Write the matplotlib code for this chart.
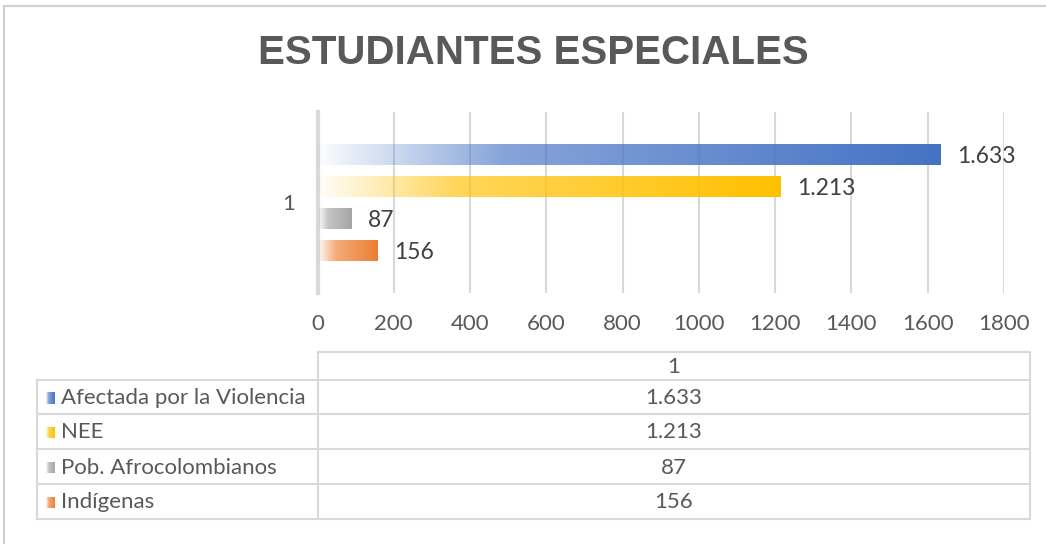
import numpy as np
import matplotlib.pyplot as plt
from matplotlib.colors import to_rgb

# data
categories = ["Afectada por la Violencia", "NEE", "Pob. Afrocolombianos", "Indígenas"]
values = [1633, 1213, 87, 156]
colors = ["#4472C4", "#FFC000", "#A5A5A5", "#ED7D31"]
group_label = "1"
x_ticks = [0, 200, 400, 600, 800, 1000, 1200, 1400, 1600, 1800]
title = "ESTUDIANTES ESPECIALES"

W, H = 1046, 544
TXT = "#595959"
GRID = "#D9D9D9"


def fmt(v):
    return f"{v:,}".replace(",", ".")


def gradient(color, n=256):
    # white -> colour ramp, like the Excel gradient fill
    r, g, b = to_rgb(color)
    t = np.linspace(0, 1, n)
    a = np.interp(t, [0, 0.3, 1], [0.02, 0.65, 1.0])
    img = np.ones((1, n, 4))
    img[0, :, 0], img[0, :, 1], img[0, :, 2] = r, g, b
    img[0, :, 3] = a
    return img


plt.rcParams['font.family'] = ['Lato', 'DejaVu Sans']
fig = plt.figure(figsize=(W / 100, H / 100), dpi=100)

# chart frame lines
fig.add_artist(plt.Line2D([4 / W, 1], [1 - 6 / H, 1 - 6 / H], color="#D0D0D0", lw=1.5))
fig.add_artist(plt.Line2D([4 / W, 4 / W], [0, 1 - 6 / H], color="#D0D0D0", lw=1.5))

fig.text(533 / W, 1 - 53 / H, title, ha="center", va="center", fontsize=29,
         fontweight="bold", color=TXT,
         family=["Liberation Sans", "DejaVu Sans"])

# bar axes
x0, x1, ytop, ybot = 317.5, 1004, 112, 293
ax = fig.add_axes([x0 / W, 1 - ybot / H, (x1 - x0) / W, (ybot - ytop) / H])
slot = 32.0
span = (ybot - ytop) / slot
n = len(values)
ypos = (np.arange(n) - (n - 1) / 2)
bars = ax.barh(ypos, values, height=21 / slot, color="none", edgecolor="none", zorder=3)
for b, v, c in zip(bars, values, colors):
    im = ax.imshow(gradient(c), extent=[0, v, b.get_y(), b.get_y() + b.get_height()],
                   aspect="auto", zorder=3, interpolation="bilinear")
    im.set_clip_path(b)
    ax.text(v + 17 * 1800 / (x1 - x0), b.get_y() + b.get_height() / 2 + 0.05, fmt(v),
            va="center", ha="left", fontsize=16.5, color="#404040", zorder=4)

ax.set_xlim(0, 1800)
ax.set_ylim(span / 2, -span / 2)
ax.set_xticks(x_ticks)
ax.set_xticklabels([str(t) for t in x_ticks])
ax.set_yticks([-0.03])
ax.set_yticklabels([group_label])
ax.tick_params(axis="both", length=0, labelsize=16, labelcolor=TXT)
ax.tick_params(axis="x", pad=15)
ax.tick_params(axis="y", pad=16)
ax.grid(axis="x", color=GRID, lw=1.5, zorder=0)
for s in ["top", "right", "bottom"]:
    ax.spines[s].set_visible(False)
ax.spines["left"].set_color(GRID)
ax.spines["left"].set_linewidth(3)
ax.set_facecolor("none")

# data table under the chart
tl, tm, tr = 37, 318, 1030
row_y = [352, 380, 414, 449, 484, 519]


def hline(y, xa, xb):
    fig.add_artist(plt.Line2D([xa / W, xb / W], [1 - y / H, 1 - y / H], color=GRID, lw=1.5))


def vline(x, ya, yb):
    fig.add_artist(plt.Line2D([x / W, x / W], [1 - ya / H, 1 - yb / H], color=GRID, lw=1.5))


hline(row_y[0], tm, tr)
for y in row_y[1:]:
    hline(y, tl, tr)
vline(tl, row_y[1], row_y[-1])
vline(tm, row_y[0], row_y[-1])
vline(tr, row_y[0], row_y[-1])

cx = (tm + tr) / 2
fig.text(cx / W, 1 - (row_y[0] + row_y[1] + 2) / 2 / H, group_label, ha="center", va="center",
         fontsize=16, color=TXT)
for i, (cat, v, c) in enumerate(zip(categories, values, colors)):
    yc = (row_y[i + 1] + row_y[i + 2]) / 2 + 1
    fig.text(cx / W, 1 - yc / H, fmt(v), ha="center", va="center", fontsize=16, color=TXT)
    fig.text(61 / W, 1 - yc / H, cat, ha="left", va="center", fontsize=16, color=TXT)
    sq = fig.add_axes([46 / W, 1 - (yc + 6) / H, 9 / W, 12 / H])
    sq.imshow(gradient(c), aspect="auto", extent=[0, 1, 0, 1])
    sq.axis("off")

fig.savefig("out.png", dpi=100)
